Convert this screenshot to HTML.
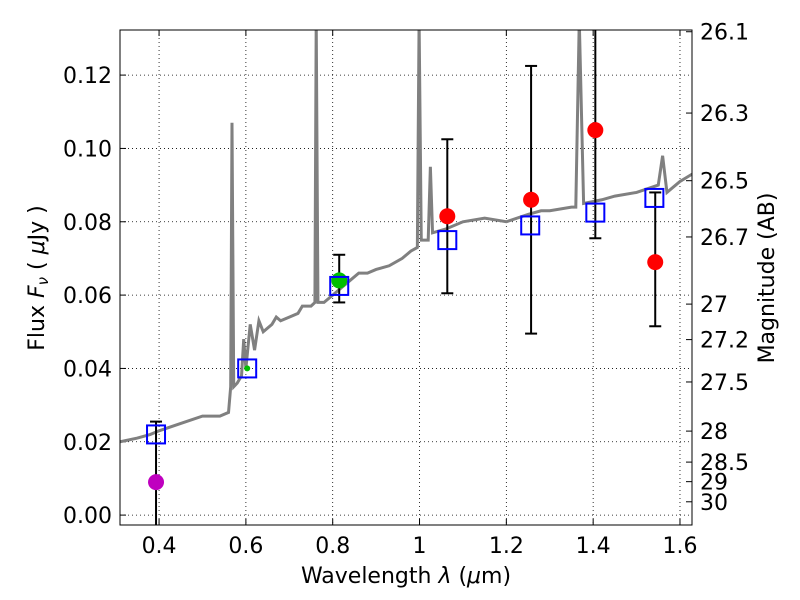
<!DOCTYPE html>
<html><head><meta charset="utf-8"><style>
body{margin:0;background:#fff}
svg{display:block;font-family:"DejaVu Sans","Liberation Sans",sans-serif}
</style></head><body>
<svg id="chart" width="800" height="600" xmlns="http://www.w3.org/2000/svg"></svg>
<script>
const specX=[0.31,0.35,0.38,0.40,0.45,0.50,0.54,0.56,0.565,0.568,0.572,0.58,0.59,0.595,0.60,0.61,0.62,0.63,0.64,0.66,0.67,0.68,0.70,0.72,0.73,0.75,0.759,0.762,0.766,0.78,0.80,0.82,0.84,0.86,0.88,0.90,0.93,0.96,0.98,0.995,0.999,1.004,1.02,1.025,1.03,1.06,1.10,1.15,1.20,1.25,1.28,1.30,1.35,1.36,1.368,1.378,1.42,1.45,1.50,1.55,1.56,1.57,1.60,1.628];
const specY=[0.020,0.021,0.022,0.023,0.025,0.027,0.027,0.028,0.035,0.107,0.035,0.036,0.038,0.048,0.040,0.052,0.045,0.053,0.050,0.052,0.054,0.053,0.054,0.055,0.057,0.057,0.058,0.135,0.058,0.058,0.060,0.062,0.064,0.066,0.066,0.067,0.068,0.070,0.072,0.073,0.135,0.075,0.075,0.095,0.077,0.078,0.080,0.081,0.080,0.082,0.083,0.083,0.084,0.084,0.135,0.085,0.086,0.087,0.088,0.090,0.098,0.088,0.091,0.093];
const modelX=[0.393,0.603,0.815,1.064,1.255,1.405,1.541];
const modelY=[0.022,0.040,0.0625,0.075,0.079,0.0825,0.0865];
const obsX=[0.393,0.603,0.815,1.064,1.257,1.405,1.543];
const obsY=[0.009,0.040,0.064,0.0815,0.086,0.105,0.069];
const obsLo=[-0.01,0.040,0.058,0.0605,0.0495,0.0755,0.0515];
const obsHi=[0.0255,0.040,0.071,0.1025,0.1225,0.135,0.088];
const obsColor=['#bf00bf','#00bf00','#00bf00','#ff0000','#ff0000','#ff0000','#ff0000'];
const xTicks=[0.4,0.6,0.8,1.0,1.2,1.4,1.6];
const xTickLabels=['0.4','0.6','0.8','1','1.2','1.4','1.6'];
const yTicks=[0,0.02,0.04,0.06,0.08,0.10,0.12];
const yTickLabels=['0.00','0.02','0.04','0.06','0.08','0.10','0.12'];
const magTicks=[26.1,26.3,26.5,26.7,27,27.2,27.5,28,28.5,29,30];

const L=120,R=692,T=30,B=525,xmin=0.31,xmax=1.6277,ymin=-0.0027,ymax=0.1323;
const sx=v=>L+(v-xmin)/(xmax-xmin)*(R-L);
const sy=v=>B-(v-ymin)/(ymax-ymin)*(B-T);
const svg=document.getElementById('chart');
const NS='http://www.w3.org/2000/svg';
function mk(tag,attrs,parent){const e=document.createElementNS(NS,tag);for(const k in attrs)e.setAttribute(k,attrs[k]);(parent||svg).appendChild(e);return e;}
const clip=mk('clipPath',{id:'pc'});mk('rect',{x:L,y:T,width:R-L,height:B-T},clip);
xTicks.forEach((t,i)=>{const g=mk('line',{x1:sx(t),x2:sx(t),y1:T,y2:B,stroke:'#000','stroke-dasharray':'1,3','stroke-width':0.8});


mk('line',{x1:sx(t),x2:sx(t),y1:B,y2:B-6,stroke:'#000'});mk('line',{x1:sx(t),x2:sx(t),y1:T,y2:T+6,stroke:'#000'});
const tx=mk('text',{x:sx(t),y:B+28,'text-anchor':'middle','font-size':22});tx.textContent=xTickLabels[i];

});
yTicks.forEach((t,i)=>{const g=mk('line',{x1:L,x2:R,y1:sy(t),y2:sy(t),stroke:'#000','stroke-dasharray':'1,3','stroke-width':0.8});


mk('line',{x1:L,x2:L+6,y1:sy(t),y2:sy(t),stroke:'#000'});
const tx=mk('text',{x:L-8,y:sy(t)+8,'text-anchor':'end','font-size':22});tx.textContent=yTickLabels[i];

});
magTicks.forEach(m=>{const f=Math.pow(10,-0.4*(m-23.9));const y=sy(f);
mk('line',{x1:R,x2:R-6,y1:y,y2:y,stroke:'#000'});
const tx=mk('text',{x:R+8,y:y+8,'font-size':22});tx.textContent=String(m);

});
const g=mk('g',{'clip-path':'url(#pc)'});
const sp=mk('polyline',{points:specX.map((x,i)=>sx(x)+','+sy(specY[i])).join(' '),fill:'none',stroke:'#808080','stroke-width':3},g);


obsX.forEach((x,i)=>{if(obsHi[i]-obsLo[i]<0.001)return;const X=sx(x);
const e=mk('g',{stroke:'#000','stroke-width':2},g);


mk('line',{x1:X,x2:X,y1:sy(obsLo[i]),y2:sy(obsHi[i])},e);
mk('line',{x1:X-6,x2:X+6,y1:sy(obsLo[i]),y2:sy(obsLo[i])},e);
mk('line',{x1:X-6,x2:X+6,y1:sy(obsHi[i]),y2:sy(obsHi[i])},e);});
obsX.forEach((x,i)=>{const r=i===1?3:8;const c=mk('circle',{cx:sx(x),cy:sy(obsY[i]),r:r,fill:obsColor[i]},g);

});
modelX.forEach((x,i)=>{const s=mk('rect',{x:sx(x)-9,y:sy(modelY[i])-9,width:18,height:18,fill:'none',stroke:'#0000ff','stroke-width':2},g);

});
mk('rect',{x:L,y:T,width:R-L,height:B-T,fill:'none',stroke:'#000','stroke-width':1});
</script>
<svg style="position:absolute;left:0;top:0" width="800" height="600">
<text x="406" y="583" text-anchor="middle" font-size="22" font-family="DejaVu Sans,sans-serif">Wavelength  <tspan font-style="italic">λ</tspan> (<tspan font-style="italic">μ</tspan>m)</text>
<text transform="translate(44,278) rotate(-90)" text-anchor="middle" font-size="22" font-family="DejaVu Sans,sans-serif">Flux  <tspan font-style="italic">F</tspan><tspan font-style="italic" font-size="15" dy="4">ν</tspan><tspan dy="-4">  (  </tspan><tspan font-style="italic">μ</tspan>Jy )</text>
<text transform="translate(774,278) rotate(-90)" text-anchor="middle" font-size="22" font-family="DejaVu Sans,sans-serif">Magnitude (AB)</text>
</svg>
</body></html>
